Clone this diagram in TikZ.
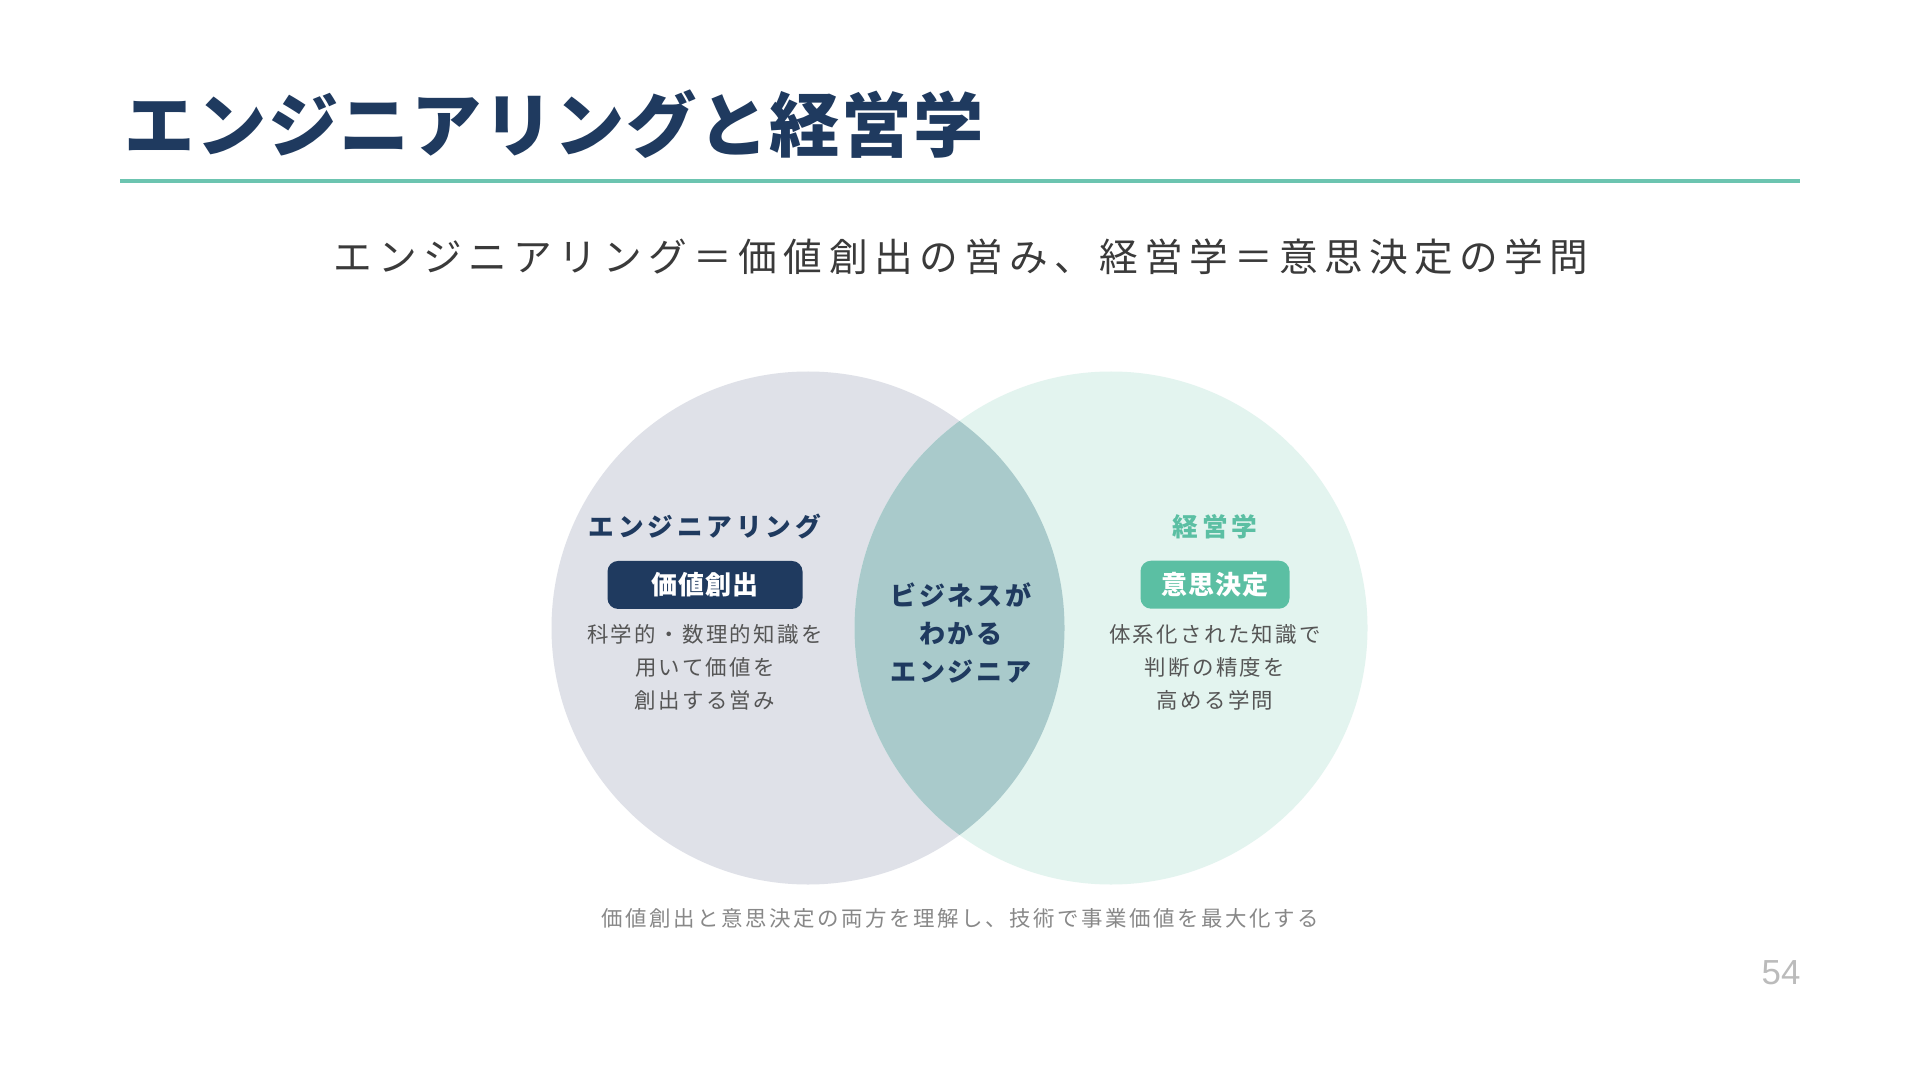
\documentclass[tikz,border=0pt]{standalone}
\usepackage{fontspec}
\setmainfont{Noto Sans CJK JP}
\newfontfamily\numfont{Liberation Sans}
\usetikzlibrary{positioning}

\definecolor{navy}{HTML}{1F3A5F}
\definecolor{mintline}{HTML}{6CC4B0}
\definecolor{mintdark}{HTML}{5BBFA3}
\definecolor{engfill}{HTML}{DFE1E8}
\definecolor{mgmtfill}{HTML}{E3F4EF}
\definecolor{bothfill}{HTML}{A9CACB}
\definecolor{subgray}{HTML}{3A3A3A}
\definecolor{bodygray}{HTML}{555555}
\definecolor{notegray}{HTML}{888888}
\definecolor{pagegray}{HTML}{BBBBBB}

\begin{document}
\begin{tikzpicture}[
    node distance=0.12cm,
    head/.style={inner sep=0pt, font=\bfseries\fontsize{7.3}{9}\selectfont\addfontfeatures{LetterSpace=15}},
    box/.style={rectangle, rounded corners=3pt, minimum height=0.48cm, inner sep=0pt, text=white, font=\bfseries\fontsize{7.4}{9}\selectfont\addfontfeatures{LetterSpace=4}},
    desc/.style={align=center, inner sep=0pt, text=bodygray, font=\fontsize{6.1}{9.35}\selectfont\addfontfeatures{LetterSpace=11}}
]
\useasboundingbox[fill=white] (0,0) rectangle (19.2,-10.8);

% title
\node[anchor=west, inner sep=0pt, text=navy, font=\bfseries\fontsize{20}{24}\selectfont\addfontfeatures{LetterSpace=2}] (title) at (1.24,-1.245) {エンジニアリングと経営学};
\draw[mintline, line width=1.2pt] (1.2,-1.81) -- (18.0,-1.81);
\node[inner sep=0pt, text=subgray, font=\fontsize{11}{13}\selectfont\addfontfeatures{LetterSpace=16.5}] (sub) at (9.61,-2.57) {エンジニアリング＝価値創出の営み、経営学＝意思決定の学問};

% venn
\fill[engfill] (8.08,-6.28) circle (2.565);
\fill[mgmtfill] (11.11,-6.28) circle (2.565);
\begin{scope}
  \clip (8.08,-6.28) circle (2.565);
  \fill[bothfill] (11.11,-6.28) circle (2.565);
\end{scope}

% engineering side
\node[head, text=navy] (eng) at (7.05,-5.27) {エンジニアリング};
\node[box, fill=navy, minimum width=1.95cm, below=0.2cm of eng] (value) {価値創出};
\node[desc, anchor=north] (engtxt) at (7.05,-6.24) {科学的・数理的知識を\\用いて価値を\\創出する営み};

% management side
\node[head, text=mintdark] (mgmt) at (12.15,-5.27) {経営学};
\node[box, fill=mintdark, minimum width=1.49cm, below=0.2cm of mgmt] (decide) {意思決定};
\node[desc, anchor=north] (mgmttxt) at (12.15,-6.24) {体系化された知識で\\判断の精度を\\高める学問};

% overlap
\node[align=center, inner sep=0pt, text=navy, font=\bfseries\fontsize{7.4}{10.8}\selectfont\addfontfeatures{LetterSpace=10}] (both) at (9.61,-6.33) {ビジネスが\\わかる\\エンジニア};

% footer
\node[inner sep=0pt, text=notegray, font=\fontsize{6.1}{8}\selectfont\addfontfeatures{LetterSpace=12}] (note) at (9.6,-9.18) {価値創出と意思決定の両方を理解し、技術で事業価値を最大化する};
\node[inner sep=0pt, text=pagegray, font=\numfont\fontsize{9.9}{12}\selectfont] (page) at (17.81,-9.73) {54};
\end{tikzpicture}
\end{document}
